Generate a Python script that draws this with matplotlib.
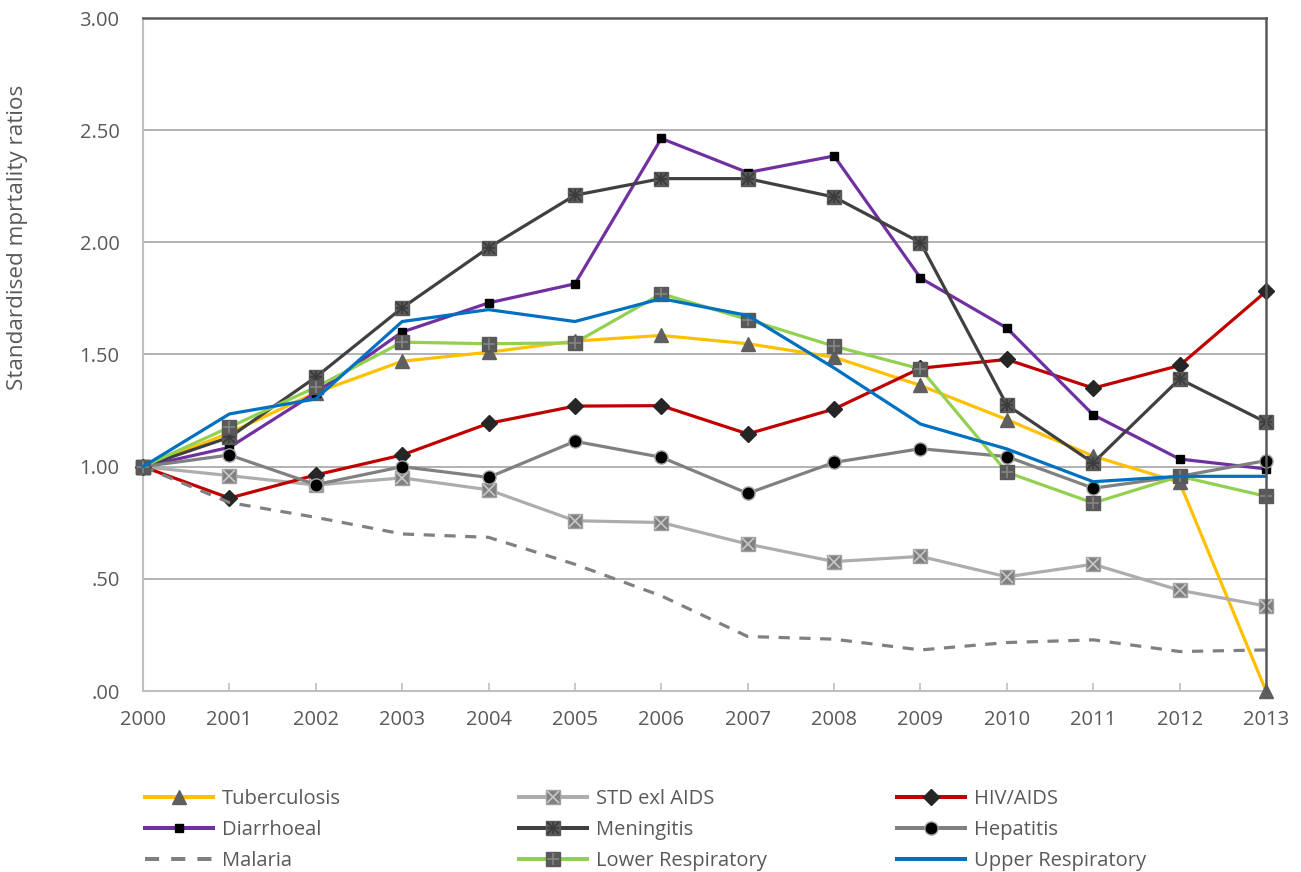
import matplotlib
matplotlib.use("Agg")
import matplotlib.pyplot as plt
from matplotlib.lines import Line2D
from matplotlib.legend_handler import HandlerTuple
from matplotlib.ticker import FuncFormatter

plt.rcParams['font.family'] = ['Open Sans', 'DejaVu Sans']

years = list(range(2000, 2014))
tuberculosis = [1.00, 1.15, 1.33, 1.47, 1.51, 1.56, 1.585, 1.548, 1.488, 1.362, 1.21, 1.047, 0.93, 0.00]
std_exl_aids = [1.00, 0.96, 0.918, 0.95, 0.897, 0.759, 0.751, 0.655, 0.577, 0.60, 0.509, 0.565, 0.449, 0.379]
hiv_aids = [1.00, 0.86, 0.963, 1.052, 1.193, 1.27, 1.272, 1.146, 1.257, 1.439, 1.478, 1.35, 1.451, 1.781]
diarrhoeal = [1.00, 1.086, 1.33, 1.60, 1.73, 1.815, 2.463, 2.311, 2.385, 1.841, 1.618, 1.231, 1.034, 0.99]
meningitis = [1.00, 1.131, 1.399, 1.708, 1.976, 2.21, 2.284, 2.284, 2.202, 1.999, 1.275, 1.017, 1.391, 1.198]
hepatitis = [1.00, 1.052, 0.92, 1.00, 0.952, 1.113, 1.042, 0.881, 1.019, 1.08, 1.045, 0.904, 0.957, 1.027]
malaria = [1.00, 0.84, 0.774, 0.70, 0.685, 0.565, 0.424, 0.243, 0.231, 0.183, 0.216, 0.228, 0.176, 0.183]
lower_resp = [1.00, 1.176, 1.354, 1.555, 1.548, 1.552, 1.771, 1.656, 1.537, 1.436, 0.975, 0.838, 0.957, 0.868]
upper_resp = [1.00, 1.235, 1.302, 1.647, 1.70, 1.647, 1.749, 1.674, 1.44, 1.19, 1.079, 0.933, 0.957, 0.957]

y_ticks = [0.0, 0.5, 1.0, 1.5, 2.0, 2.5, 3.0]

W, H = 1301, 872
fig = plt.figure(figsize=(W / 100, H / 100), dpi=100)
ax = fig.add_axes([143 / W, 1 - 691 / H, (1266 - 143) / W, (691 - 18) / H])

LW = 2.3
TXT = '#595959'

series = [
    ('Tuberculosis', tuberculosis, '#FFC000',
     [dict(marker='^', ms=10, mfc='#5F5F5F', mec='#5F5F5F')], '-'),
    ('STD exl AIDS', std_exl_aids, '#ADADAD',
     [dict(marker='s', ms=10, mfc='#808080', mec='#A0A0A0'),
      dict(marker='x', ms=8, mfc='none', mec='#C8C8C8', mew=1.2)], '-'),
    ('HIV/AIDS', hiv_aids, '#C00000',
     [dict(marker='D', ms=8, mfc='#262626', mec='#262626')], '-'),
    ('Diarrhoeal', diarrhoeal, '#7030A0',
     [dict(marker='s', ms=6, mfc='black', mec='black')], '-'),
    ('Meningitis', meningitis, '#404040',
     [dict(marker='s', ms=10, mfc='#595959', mec='#595959'),
      dict(marker='x', ms=8, mfc='none', mec='#3A3A3A', mew=1.2),
      dict(marker='+', ms=9, mfc='none', mec='#3A3A3A', mew=1.2)], '-'),
    ('Hepatitis', hepatitis, '#808080',
     [dict(marker='o', ms=9.5, mfc='black', mec='#A6A6A6', mew=1.0)], '-'),
    ('Malaria', malaria, '#808080', [], (0, (3.5, 3))),
    ('Lower Respiratory', lower_resp, '#92D050',
     [dict(marker='s', ms=10, mfc='#595959', mec='#595959'),
      dict(marker='+', ms=9, mfc='none', mec='#858585', mew=1.2)], '-'),
    ('Upper Respiratory', upper_resp, '#0070C0', [], '-'),
]

handles = {}
for i, (label, data, color, mks, ls) in enumerate(series):
    z = 3 + i
    ax.plot(years, data, color=color, lw=LW, ls=ls, zorder=z,
            clip_on=False, solid_capstyle='round')
    parts = [Line2D([], [], color=color, lw=LW + 0.6, ls=ls)]
    for m in mks:
        ax.plot(years, data, ls='none', zorder=z + 0.1, clip_on=False, **m)
        parts.append(Line2D([], [], ls='none', **m))
    handles[label] = tuple(parts)

ax.set_xlim(2000, 2013)
ax.set_ylim(0, 3.0)
ax.set_xticks(years)
ax.set_xticklabels([str(y) for y in years])
ax.set_yticks(y_ticks)
ax.yaxis.set_major_formatter(FuncFormatter(lambda v, p: ('%.2f' % v).lstrip('0') if v < 1 else '%.2f' % v))
ax.grid(axis='y', color='#A6A6A6', lw=1.2, zorder=0)
ax.set_axisbelow(True)

for s in ['left', 'bottom']:
    ax.spines[s].set_color('#BFBFBF')
    ax.spines[s].set_linewidth(1.5)
for s in ['top', 'right']:
    ax.spines[s].set_color('#595959')
    ax.spines[s].set_linewidth(1.8)
    ax.spines[s].set_zorder(20)

ax.tick_params(axis='x', direction='in', length=6, width=1.2, color='#BFBFBF',
               labelsize=14.5, labelcolor=TXT, pad=14)
ax.tick_params(axis='y', length=0, labelsize=14.5, labelcolor=TXT, pad=17)

fig.text(18 / W, 1 - 237 / H, 'Standardised mprtality ratios', rotation=90,
         ha='center', va='center', fontsize=16.2, color=TXT)

cols = [
    (145, ['Tuberculosis', 'Diarrhoeal', 'Malaria']),
    (519, ['STD exl AIDS', 'Meningitis', 'Lower Respiratory']),
    (897, ['HIV/AIDS', 'Hepatitis', 'Upper Respiratory']),
]
for x0, labels in cols:
    leg = fig.legend([handles[l] for l in labels], labels, loc='upper left',
                     bbox_to_anchor=(x0 / W, 1 - 789 / H), frameon=False,
                     fontsize=14.5, handlelength=3.4, handletextpad=0.4,
                     labelspacing=0.55, borderpad=0, borderaxespad=0,
                     numpoints=1, handler_map={tuple: HandlerTuple(ndivide=1, pad=0)})
    for t in leg.get_texts():
        t.set_color(TXT)

fig.savefig('out.png', dpi=100)
